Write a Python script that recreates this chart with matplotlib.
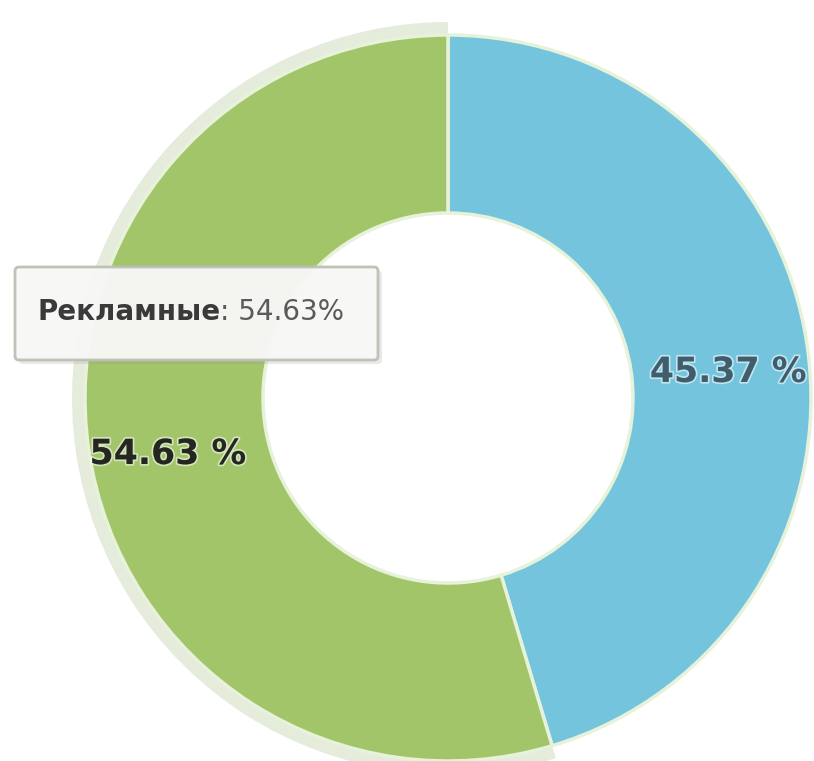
import matplotlib.pyplot as plt
import matplotlib.patheffects as pe
from matplotlib.patches import Wedge, FancyBboxPatch

labels = ["Прямые", "Рекламные"]
values = [45.37, 54.63]
colors = ["#74c4de", "#a3c56a"]
tooltip_name = "Рекламные"
tooltip_value = "54.63%"

W, H = 814, 761
cx, cy = 448, H - 398
R = 363
hole = 185

fig = plt.figure(figsize=(W / 100, H / 100), dpi=100)
ax = fig.add_axes([0, 0, 1, 1])

wedges, texts, autotexts = ax.pie(
    values, colors=colors, startangle=90, counterclock=False,
    center=(cx, cy), radius=R, autopct="%.2f %%", pctdistance=0.78,
    wedgeprops=dict(width=R - hole, edgecolor="#e6f2da", linewidth=2.5),
    frame=True)
ax.set_xlim(0, W)
ax.set_ylim(0, H)
ax.set_aspect("equal")
ax.axis("off")

# hover halo round the green slice
g = wedges[1]
halo = Wedge((cx, cy), R + 13, g.theta1, g.theta2, width=14,
             facecolor="#dfe8d3", alpha=0.8, edgecolor="none", zorder=0)
ax.add_patch(halo)

# labels sit a little below the slice mid-line in the original
for t, c in zip(autotexts, ["#3f5d6a", "#23271f"]):
    x, y = t.get_position()
    t.set_position((x, y - 15))
    t.set_fontsize(25)
    t.set_fontweight("bold")
    t.set_color(c)
    t.set_path_effects([pe.withStroke(linewidth=2.5, foreground="white", alpha=0.55)])

# tooltip
shadow = FancyBboxPatch((19, H - 364), 363, 93, boxstyle="round,pad=0,rounding_size=4",
                        facecolor="#8a8a8a", edgecolor="none", alpha=0.18, zorder=4)
ax.add_patch(shadow)
box = FancyBboxPatch((15, H - 360), 363, 93, boxstyle="round,pad=0,rounding_size=4",
                     facecolor="#f8f8f6", edgecolor="#bcc0b5", linewidth=2,
                     alpha=0.96, zorder=5)
ax.add_patch(box)
t1 = ax.text(37, H - 312, tooltip_name, fontsize=20, fontweight="bold",
             color="#3a3a3a", va="center", ha="left", zorder=6)
fig.canvas.draw()
bb = t1.get_window_extent()
x_end = ax.transData.inverted().transform((bb.x1, bb.y0))[0]
ax.text(x_end, H - 312, ": " + tooltip_value, fontsize=20, color="#5a5a5a",
        va="center", ha="left", zorder=6)

fig.savefig("out.png", dpi=100)
